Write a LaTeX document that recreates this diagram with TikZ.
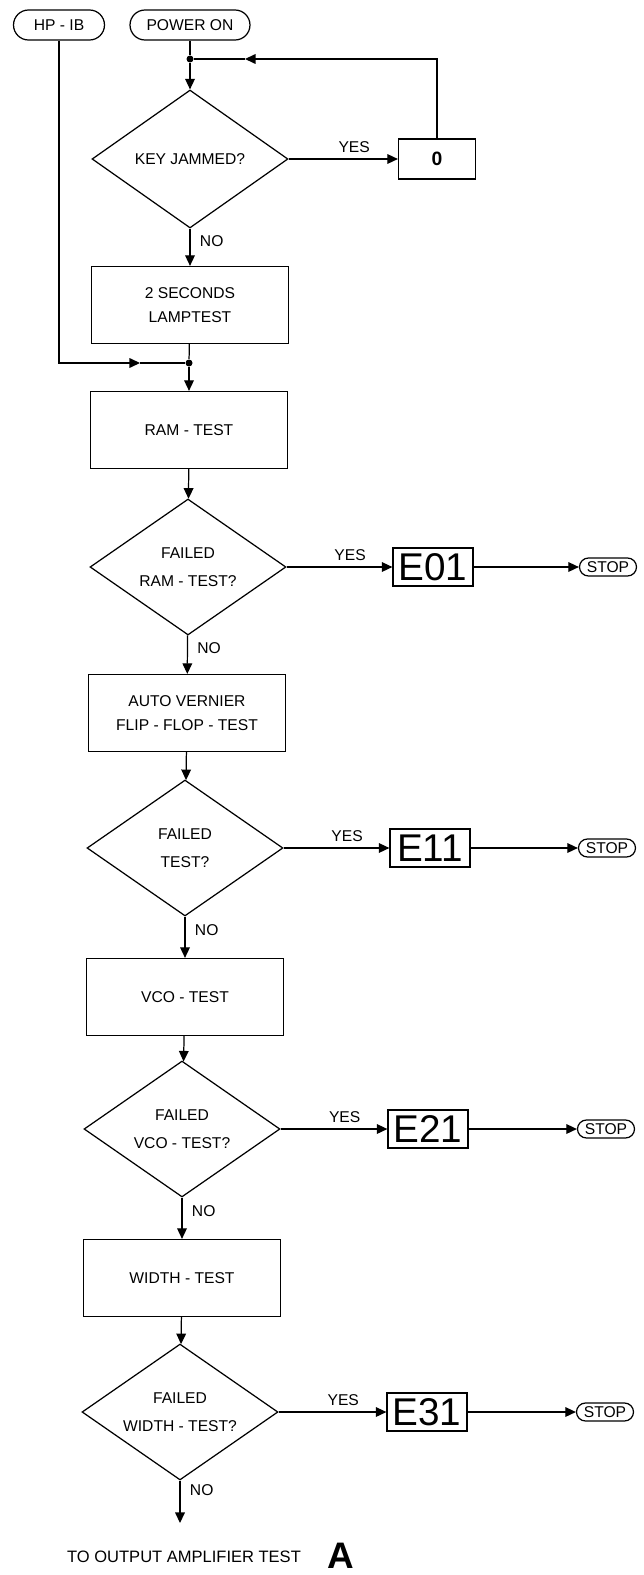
\documentclass[tikz,border=0pt]{standalone}
\usepackage{fontspec}
\setmainfont{Liberation Sans}
\usetikzlibrary{arrows.meta,shapes.geometric,positioning}

\begin{document}
\begin{tikzpicture}[x=0.02cm,y=-0.02cm,>={Triangle[length=6pt,width=5.5pt]},line width=0.7pt,
    every node/.style={font=\fontsize{8.9}{10}\selectfont},
    terminal/.style={draw,rounded corners=0.3cm,minimum height=0.6cm,inner sep=0pt},
    stopper/.style={draw,rounded corners=0.18cm,minimum height=0.36cm,minimum width=1.14cm,inner sep=0pt},
    process/.style={draw,minimum width=3.94cm,minimum height=1.54cm,align=center,font=\fontsize{8.9}{14}\selectfont},
    decision/.style={draw,diamond,aspect=1.43,inner sep=0pt,minimum width=3.92cm,minimum height=2.72cm,align=center,font=\fontsize{8.9}{16}\selectfont},
    display/.style={draw,minimum width=1.6cm,minimum height=0.76cm,inner sep=0pt,font=\fontsize{22}{22}\selectfont},
    junction/.style={circle,fill,inner sep=0pt,minimum size=0.14cm}]
  \useasboundingbox (0,0) rectangle (644,1575);

  \node[terminal,minimum width=1.82cm] (hpib) at (59,25) {HP - IB};
  \node[terminal,minimum width=2.4cm] (power) at (190,25) {POWER ON};
  \node[junction] (dot1) at (190,59) {};
  \coordinate (loopend) at (245,59);
  \node[decision,minimum height=2.76cm] (jam) at (190,159) {KEY JAMMED?};
  \node[display,minimum width=1.54cm,minimum height=0.8cm,font=\fontsize{11}{11}\selectfont\bfseries] (zero) at (437,159) {0};
  \node[process] (lamp) at (190,305) {2 SECONDS\\LAMPTEST};
  \node[junction] (dot2) at (189,363) {};
  \coordinate (hpend) at (140,363);
  \node[process] (ram) at (189,430) {RAM - TEST};

  \node[decision] (ramfail) at (188,567) {FAILED\\RAM - TEST?};
  \node[display] (e01) at (433,567) {E01};
  \node[stopper] (stop1) at (608,567) {STOP};
  \node[process] (flip) at (187,713) {AUTO VERNIER\\FLIP - FLOP - TEST};

  \node[decision] (flipfail) at (185,848) {FAILED\\TEST?};
  \node[display] (e11) at (430,848) {E11};
  \node[stopper] (stop2) at (607,848) {STOP};
  \node[process] (vco) at (185,997) {VCO - TEST};

  \node[decision] (vcofail) at (182,1129) {FAILED\\VCO - TEST?};
  \node[display] (e21) at (428,1129) {E21};
  \node[stopper] (stop3) at (606,1129) {STOP};
  \node[process] (width) at (182,1278) {WIDTH - TEST};

  \node[decision] (widthfail) at (180,1412) {FAILED\\WIDTH - TEST?};
  \node[display] (e31) at (427,1412) {E31};
  \node[stopper] (stop4) at (605,1412) {STOP};
  \coordinate (outend) at (180,1523);
  \node[font=\fontsize{9.4}{10}\selectfont] (outtext) at (184,1557) {TO OUTPUT AMPLIFIER TEST};
  \node[inner sep=0pt,font=\fontsize{21}{21}\selectfont\bfseries] (conn) at (341,1556) {A};

  \draw (power) -- (dot1);
  \draw[->] (dot1) -- (jam);
  \draw[->] (jam) -- node[above,pos=0.6]{YES} (zero);
  \draw[->] (zero.north) |- (loopend);
  \draw (loopend) -- (dot1);
  \draw[->] (jam) -- node[right=2pt,pos=0.33]{NO} (lamp);
  \draw (lamp) -- (dot2);
  \draw[->] (hpib.south) |- (hpend);
  \draw (hpend) -- (dot2);
  \draw[->] (dot2) -- (ram);

  \draw[->] (ram) -- (ramfail);
  \draw[->] (ramfail) -- node[above,pos=0.6]{YES} (e01);
  \draw[->] (e01) -- (stop1);
  \draw[->] (ramfail) -- node[right=2pt,pos=0.33]{NO} (flip);

  \draw[->] (flip) -- (flipfail);
  \draw[->] (flipfail) -- node[above,pos=0.6]{YES} (e11);
  \draw[->] (e11) -- (stop2);
  \draw[->] (flipfail) -- node[right=2pt,pos=0.33]{NO} (vco);

  \draw[->] (vco) -- (vcofail);
  \draw[->] (vcofail) -- node[above,pos=0.6]{YES} (e21);
  \draw[->] (e21) -- (stop3);
  \draw[->] (vcofail) -- node[right=2pt,pos=0.33]{NO} (width);

  \draw[->] (width) -- (widthfail);
  \draw[->] (widthfail) -- node[above,pos=0.6]{YES} (e31);
  \draw[->] (e31) -- (stop4);
  \draw[->] (widthfail) -- node[right=2pt,pos=0.23]{NO} (outend);
\end{tikzpicture}
\end{document}
